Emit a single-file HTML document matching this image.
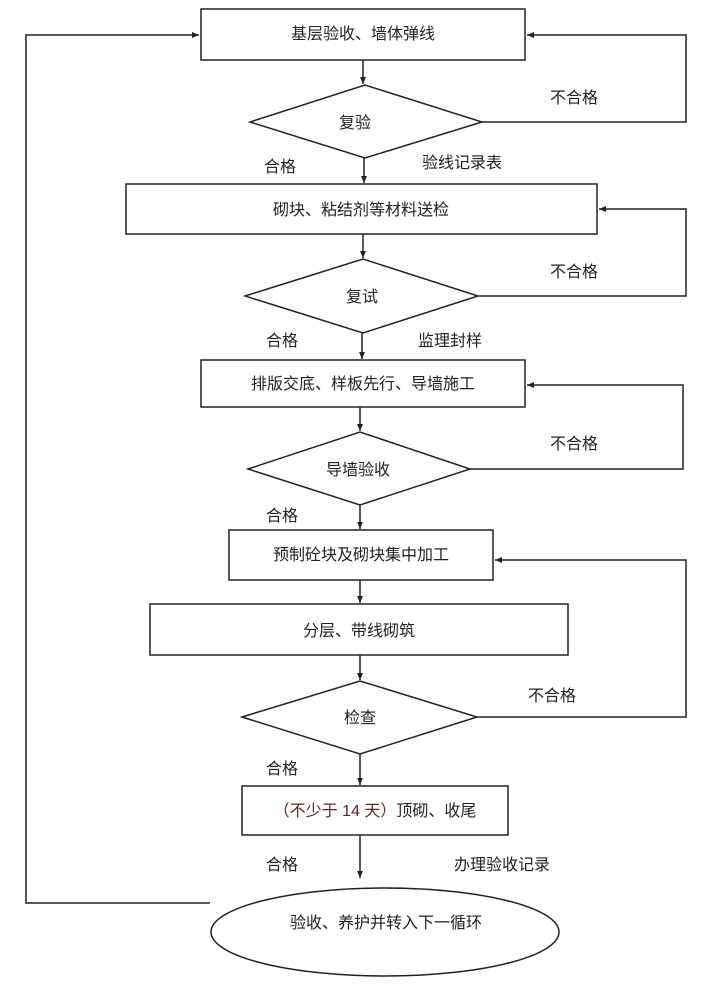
<!DOCTYPE html>
<html><head><meta charset="utf-8"><style>
html,body{margin:0;padding:0;background:#fff;}
svg text{font-family:"Liberation Sans","Noto Sans CJK SC",sans-serif;font-size:16px;fill:#222;}
</style></head><body>
<svg width="719" height="993" viewBox="0 0 719 993" xmlns="http://www.w3.org/2000/svg">
<defs><marker id="a" markerWidth="8" markerHeight="8" refX="7" refY="4" orient="auto" markerUnits="userSpaceOnUse"><path d="M0,1 L7,4 L0,7 z" fill="#222"/></marker></defs>
<g stroke="#222" stroke-width="1.5" fill="none">
<rect x="201" y="9" width="324" height="51"/>
<polygon points="250,122 365,85 482,122 365,158"/>
<rect x="126" y="184" width="471" height="50"/>
<polygon points="245,296 363,259 478,296 363,333"/>
<rect x="201" y="360" width="324" height="47"/>
<polygon points="248,469 360,432 470,469 360,505"/>
<rect x="229" y="530" width="264" height="50"/>
<rect x="150" y="604" width="418" height="51"/>
<polygon points="242,717 360,681 477,717 360,754"/>
<rect x="242" y="786" width="266" height="49"/>
<ellipse cx="385" cy="932" rx="174" ry="44"/>
<!-- down arrows -->
<line x1="363" y1="60" x2="363" y2="84" marker-end="url(#a)"/>
<line x1="364" y1="158" x2="364" y2="183" marker-end="url(#a)"/>
<line x1="363" y1="234" x2="363" y2="258" marker-end="url(#a)"/>
<line x1="362" y1="333" x2="362" y2="359" marker-end="url(#a)"/>
<line x1="360" y1="407" x2="360" y2="431" marker-end="url(#a)"/>
<line x1="360" y1="505" x2="360" y2="529" marker-end="url(#a)"/>
<line x1="360" y1="580" x2="360" y2="603" marker-end="url(#a)"/>
<line x1="360" y1="655" x2="360" y2="680" marker-end="url(#a)"/>
<line x1="360" y1="754" x2="360" y2="785" marker-end="url(#a)"/>
<line x1="360" y1="835" x2="360" y2="878" marker-end="url(#a)"/>
<!-- feedback loops -->
<polyline points="482,122 686,122 686,35 527,35" marker-end="url(#a)"/>
<polyline points="478,296 686,296 686,209 599,209" marker-end="url(#a)"/>
<polyline points="470,469 683,469 683,385 527,385" marker-end="url(#a)"/>
<polyline points="477,717 686,717 686,560 495,560" marker-end="url(#a)"/>
<polyline points="210,903 26,903 26,35 199,35" marker-end="url(#a)"/>
</g>
<g text-anchor="middle">
<text x="363" y="39">基层验收、墙体弹线</text>
<text x="355" y="128">复验</text>
<text x="361" y="215">砌块、粘结剂等材料送检</text>
<text x="362" y="302">复试</text>
<text x="363" y="389">排版交底、样板先行、导墙施工</text>
<text x="358" y="475">导墙验收</text>
<text x="361" y="560">预制砼块及砌块集中加工</text>
<text x="359" y="636">分层、带线砌筑</text>
<text x="360" y="723">检查</text>
<text x="375" y="816"><tspan fill="#5a2a2a" style="fill:#5a2a2a">（不少于 14 天）</tspan>顶砌、收尾</text>
<text x="386" y="928">验收、养护并转入下一循环</text>
</g>
<text x="550" y="103">不合格</text>
<text x="264" y="172">合格</text>
<text x="422" y="168">验线记录表</text>
<text x="550" y="277">不合格</text>
<text x="266" y="346">合格</text>
<text x="418" y="346">监理封样</text>
<text x="550" y="449">不合格</text>
<text x="266" y="521">合格</text>
<text x="528" y="701">不合格</text>
<text x="266" y="774">合格</text>
<text x="266" y="870">合格</text>
<text x="454" y="870">办理验收记录</text>
</svg>
</body></html>
